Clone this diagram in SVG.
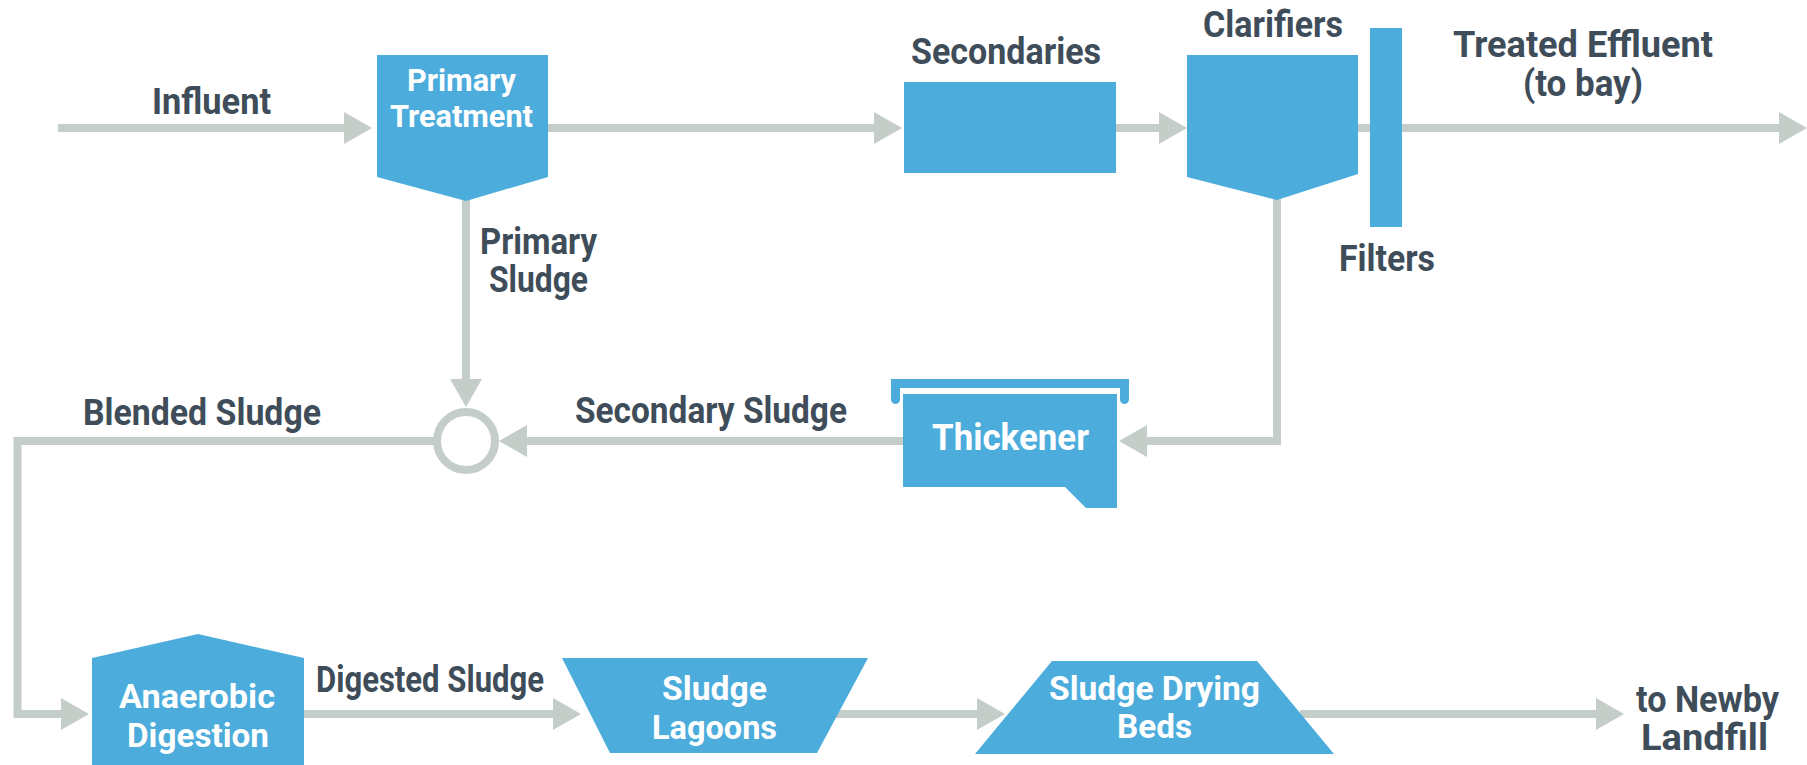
<svg xmlns="http://www.w3.org/2000/svg" width="1807" height="765" viewBox="0 0 1807 765">
<style>
.bg{fill:#ffffff}
.node{fill:#4cacdc}
.lbl{font-family:"Liberation Sans Narrow","Roboto","Liberation Sans",sans-serif;font-weight:700;fill:#3e4d59;font-size:36px}
.wl{font-family:"Liberation Sans Narrow","Roboto","Liberation Sans",sans-serif;font-weight:700;fill:#ffffff;font-size:34px}
.conn{fill:none;stroke:#c4cdc8;stroke-width:8;stroke-linejoin:miter;stroke-linecap:butt}
.ah{fill:#c4cdc8}
</style>
<defs>
<marker id="arr" markerUnits="userSpaceOnUse" markerWidth="30" markerHeight="32" refX="1" refY="16" orient="auto" viewBox="0 0 30 32">
<path class="ah" d="M0,0 L28,16 L0,32 Z"/>
</marker>
</defs>
<rect class="bg" x="0" y="0" width="1807" height="765"/>

<g id="connectors">
<path class="conn" d="M58,128 H345" marker-end="url(#arr)"/>
<path class="conn" d="M548,128 H875" marker-end="url(#arr)"/>
<path class="conn" d="M1116,128 H1160" marker-end="url(#arr)"/>
<path class="conn" d="M1358,128 H1780" marker-end="url(#arr)"/>
<path class="conn" d="M466,200 V380" marker-end="url(#arr)"/>
<path class="conn" d="M903,441 H526" marker-end="url(#arr)"/>
<path class="conn" d="M1277,199 V441 H1146" marker-end="url(#arr)"/>
<path class="conn" d="M434,441 H17.5 V714 H62" marker-end="url(#arr)"/>
<path class="conn" d="M304,714 H554" marker-end="url(#arr)"/>
<path class="conn" d="M836,714 H978" marker-end="url(#arr)"/>
<path class="conn" d="M1300,714 H1597" marker-end="url(#arr)"/>
</g>

<g id="influent-label">
<text class="lbl" x="211.5" y="114" text-anchor="middle" textLength="119" lengthAdjust="spacingAndGlyphs">Influent</text>
</g>

<g id="primary-treatment">
<polygon class="node" points="377,55 548,55 548,177 466,201 377,177"/>
<text class="wl" x="461.5" y="91" text-anchor="middle" textLength="109" lengthAdjust="spacingAndGlyphs" style="font-size:31px">Primary</text>
<text class="wl" x="461.5" y="127" text-anchor="middle" textLength="143" lengthAdjust="spacingAndGlyphs" style="font-size:31px">Treatment</text>
</g>

<g id="secondaries">
<rect class="node" x="904" y="82" width="212" height="91"/>
<text class="lbl" x="1006" y="64" text-anchor="middle" textLength="190" lengthAdjust="spacingAndGlyphs">Secondaries</text>
</g>

<g id="clarifiers">
<polygon class="node" points="1187,55 1358,55 1358,174 1277,200 1187,177"/>
<text class="lbl" x="1273" y="37" text-anchor="middle" textLength="140" lengthAdjust="spacingAndGlyphs">Clarifiers</text>
</g>

<g id="filters">
<rect class="node" x="1370" y="28" width="32" height="199"/>
<text class="lbl" x="1387" y="271" text-anchor="middle" textLength="96" lengthAdjust="spacingAndGlyphs">Filters</text>
</g>

<g id="treated-effluent">
<text class="lbl" x="1583" y="57" text-anchor="middle" textLength="260" lengthAdjust="spacingAndGlyphs">Treated Effluent</text>
<text class="lbl" x="1583" y="96" text-anchor="middle" textLength="120" lengthAdjust="spacingAndGlyphs">(to bay)</text>
</g>

<g id="primary-sludge-label">
<text class="lbl" x="538.5" y="254" text-anchor="middle" textLength="117" lengthAdjust="spacingAndGlyphs">Primary</text>
<text class="lbl" x="538.5" y="292" text-anchor="middle" textLength="99" lengthAdjust="spacingAndGlyphs">Sludge</text>
</g>

<g id="blend-junction">
<circle cx="466" cy="441" r="29" fill="#ffffff" stroke="#c4cdc8" stroke-width="8"/>
</g>

<g id="blended-sludge-label">
<text class="lbl" x="202" y="425" text-anchor="middle" textLength="238" lengthAdjust="spacingAndGlyphs">Blended Sludge</text>
</g>

<g id="secondary-sludge-label">
<text class="lbl" x="711" y="423" text-anchor="middle" textLength="272" lengthAdjust="spacingAndGlyphs">Secondary Sludge</text>
</g>

<g id="thickener">
<path d="M895.5,399.5 V383.5 H1124.5 V399.5" fill="none" stroke="#4cacdc" stroke-width="9" stroke-linecap="round" stroke-linejoin="miter"/>
<path class="node" d="M903,394 H1117 V508 H1086 L1065,487 H903 Z"/>
<text class="wl" x="1010.5" y="450" text-anchor="middle" textLength="157" lengthAdjust="spacingAndGlyphs" style="font-size:37px">Thickener</text>
</g>

<g id="anaerobic-digestion">
<polygon class="node" points="92,658 198,634 304,658 304,770 92,770"/>
<text class="wl" x="197" y="708" text-anchor="middle" textLength="156" lengthAdjust="spacingAndGlyphs">Anaerobic</text>
<text class="wl" x="198" y="747" text-anchor="middle" textLength="142" lengthAdjust="spacingAndGlyphs">Digestion</text>
</g>

<g id="digested-sludge-label">
<text class="lbl" x="430" y="692" text-anchor="middle" textLength="228" lengthAdjust="spacingAndGlyphs">Digested Sludge</text>
</g>

<g id="sludge-lagoons">
<polygon class="node" points="562,658 868,658 817,753 610,753"/>
<text class="wl" x="714.5" y="700" text-anchor="middle" textLength="105" lengthAdjust="spacingAndGlyphs">Sludge</text>
<text class="wl" x="714.5" y="739" text-anchor="middle" textLength="125" lengthAdjust="spacingAndGlyphs">Lagoons</text>
</g>

<g id="sludge-drying-beds">
<polygon class="node" points="1052,661 1257,661 1334,754 975,754"/>
<text class="wl" x="1154.5" y="700" text-anchor="middle" textLength="211" lengthAdjust="spacingAndGlyphs">Sludge Drying</text>
<text class="wl" x="1154.5" y="738" text-anchor="middle" textLength="75" lengthAdjust="spacingAndGlyphs">Beds</text>
</g>

<g id="landfill-label">
<text class="lbl" x="1707.5" y="712" text-anchor="middle" textLength="143" lengthAdjust="spacingAndGlyphs">to Newby</text>
<text class="lbl" x="1704.5" y="750" text-anchor="middle" textLength="127" lengthAdjust="spacingAndGlyphs">Landfill</text>
</g>
</svg>
